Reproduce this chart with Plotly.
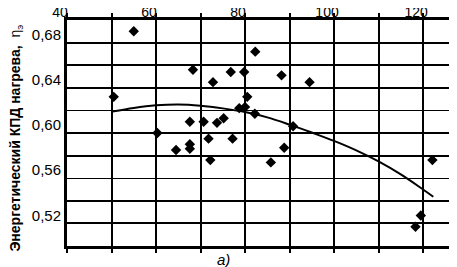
import plotly.graph_objects as go

# Measured points (x, efficiency)
x_vals = [50.5, 55.0, 60.3, 68.3, 72.8, 76.8, 79.8, 82.3, 88.2, 94.5,
          80.5, 78.7, 80.0, 82.2, 75.2, 73.7, 70.7, 67.6, 71.8, 77.2,
          90.8, 88.8, 85.8, 72.2, 64.5, 67.6, 67.6, 122.1, 119.5, 118.3]
y_vals = [0.632, 0.690, 0.600, 0.656, 0.645, 0.654, 0.654, 0.672, 0.651, 0.645,
          0.632, 0.622, 0.623, 0.617, 0.613, 0.609, 0.610, 0.610, 0.595, 0.595,
          0.606, 0.587, 0.574, 0.576, 0.585, 0.590, 0.586, 0.576, 0.527, 0.517]

# Trend curve
trend_x = [50.2, 55, 60, 65, 70, 75, 80, 85, 90, 95, 100, 105, 110, 115, 120, 122.3]
trend_y = [0.619, 0.6222, 0.6245, 0.6253, 0.6242, 0.6218, 0.6185, 0.6138, 0.6074,
           0.6004, 0.5930, 0.5846, 0.5748, 0.5633, 0.5500, 0.5436]

# Axis ticks
x_tickvals = [40, 50, 60, 70, 80, 90, 100, 110, 120]
x_ticktext = ["40", "", "60", "", "80", "", "100", "", "120"]
y_label_vals = [0.52, 0.56, 0.60, 0.64, 0.68]
y_label_text = ["0,52", "0,56", "0,60", "0,64", "0,68"]
y_thick_grid = [0.52, 0.54, 0.58, 0.60, 0.64, 0.66, 0.68]
y_thin_grid = [0.56, 0.62]

y_title = "<b>Энергетический КПД нагрева,</b>  η<sub>э</sub>"
panel_label = "<i>а)</i>"

fig = go.Figure()
fig.add_trace(go.Scatter(x=trend_x, y=trend_y, mode="lines", line_shape="spline",
                         line=dict(color="black", width=2), showlegend=False,
                         hoverinfo="skip"))
fig.add_trace(go.Scatter(x=x_vals, y=y_vals, mode="markers",
                         marker=dict(symbol="diamond", size=8, color="black"),
                         showlegend=False))
# invisible trace to host the thin-grid axis
fig.add_trace(go.Scatter(x=[trend_x[0]], y=[trend_y[0]], yaxis="y2", mode="markers",
                         marker=dict(opacity=0), showlegend=False, hoverinfo="skip"))

fig.update_layout(
    width=457, height=267,
    margin=dict(l=59, r=1, t=12, b=29),
    paper_bgcolor="white", plot_bgcolor="white",
    font=dict(family="Liberation Sans, Arial, sans-serif", color="black"),
    xaxis=dict(
        range=[40, 129.2], side="top", automargin=False,
        tickmode="array", tickvals=x_tickvals, ticktext=x_ticktext,
        ticks="outside", ticklen=4, tickwidth=2, tickcolor="black",
        showgrid=True, gridcolor="black", gridwidth=2,
        showline=True, linecolor="black", linewidth=3, mirror="ticks",
        zeroline=False, tickfont=dict(size=14), ticklabelstandoff=-10,
        ticklabelshift=-7,
    ),
    yaxis=dict(
        range=[0.50, 0.70], automargin=False,
        tickmode="array", tickvals=y_label_vals, ticktext=y_label_text,
        ticks="", showgrid=False,
        minor=dict(tickmode="array", tickvals=y_thick_grid, showgrid=True,
                   gridcolor="black", gridwidth=2, ticks=""),
        showline=True, linecolor="black", linewidth=3, mirror=True,
        zeroline=False, tickfont=dict(size=15), ticklabelshift=-8,
    ),
    yaxis2=dict(
        range=[0.50, 0.70], overlaying="y", automargin=False,
        tickmode="array", tickvals=y_thin_grid, showticklabels=False,
        showgrid=True, gridcolor="black", gridwidth=1, ticks="",
        zeroline=False, showline=False,
    ),
    annotations=[
        dict(text=y_title, xref="paper", yref="paper", x=-0.128, y=0.476,
             xanchor="center", yanchor="middle", textangle=-90, showarrow=False,
             font=dict(size=14, color="black")),
        dict(text=panel_label, xref="paper", yref="paper", x=0.395, y=-0.06,
             xanchor="center", yanchor="middle", showarrow=False,
             font=dict(size=15, color="black")),
    ],
)

fig.write_html("out.html")
